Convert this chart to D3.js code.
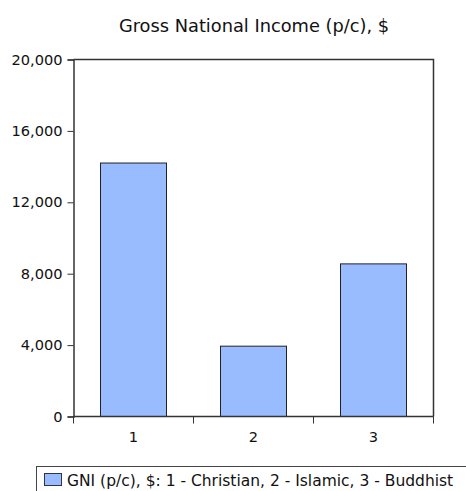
<!DOCTYPE html>
<html>
<head>
<meta charset="utf-8">
<script src="https://cdn.jsdelivr.net/npm/d3@7"></script>
<style>
  html, body { margin: 0; padding: 0; background: #fff; }
  svg { display: block; font-family: "DejaVu Sans", Verdana, sans-serif; }
</style>
</head>
<body>
<svg id="chart" width="466" height="491"></svg>
<script>
// Gross national income per capita by predominant religion
const categories = ["1", "2", "3"];
const gniValues = [14200, 3940, 8550];
const yTicks = [0, 4000, 8000, 12000, 16000, 20000];
const chartTitle = "Gross National Income (p/c), $";
const legendLabel = "GNI (p/c), $: 1 - Christian, 2 - Islamic, 3 - Buddhist";

const svg = d3.select("#chart");
const margin = { left: 73.5, right: 433.5, top: 59.5, bottom: 416.5 };

const x = d3.scaleBand()
  .domain(categories)
  .range([margin.left, margin.right])
  .paddingInner(0.45)
  .paddingOuter(0.225);

const y = d3.scaleLinear()
  .domain([0, 20000])
  .range([margin.bottom, margin.top]);

const axisColor = "#333";
const labelSize = 14.6;

// title
svg.append("text")
  .attr("x", 254)
  .attr("y", 25)
  .attr("text-anchor", "middle")
  .attr("dominant-baseline", "central")
  .attr("font-size", 17.8)
  .attr("fill", "#111")
  .text(chartTitle);

// frame: top and right edges of the plot area
svg.append("path")
  .attr("d", `M${margin.left},${margin.top}H${margin.right}V${margin.bottom}`)
  .attr("fill", "none")
  .attr("stroke", axisColor)
  .attr("stroke-width", 1.5);

// bars
svg.append("g")
  .selectAll("rect")
  .data(gniValues)
  .join("rect")
  .attr("x", (d, i) => x(categories[i]))
  .attr("y", d => y(d))
  .attr("width", x.bandwidth())
  .attr("height", d => y(0) - y(d))
  .attr("fill", "#99bbff")
  .attr("stroke", "#222")
  .attr("stroke-width", 1);

// y axis
const yAxis = svg.append("g")
  .attr("transform", `translate(${margin.left},0)`)
  .call(d3.axisLeft(y).tickValues(yTicks).tickSize(6).tickPadding(5)
    .tickFormat(d3.format(",")));
yAxis.select(".domain").attr("stroke", axisColor).attr("stroke-width", 1.5);
yAxis.selectAll(".tick line").attr("stroke", axisColor);
yAxis.selectAll(".tick text")
  .attr("font-size", labelSize)
  .attr("fill", "#111")
  .attr("font-family", "DejaVu Sans, Verdana, sans-serif");

// x axis: ticks sit on the band boundaries, labels at band centres
const xBoundaries = categories.map(c => x(c) - x.step() * x.paddingInner() / 2)
  .concat([margin.right]);
const xAxis = svg.append("g")
  .attr("transform", `translate(0,${margin.bottom})`);
xAxis.append("path")
  .attr("d", `M${margin.left},0H${margin.right}`)
  .attr("stroke", axisColor)
  .attr("stroke-width", 1.5);
xAxis.selectAll("line.tick")
  .data(xBoundaries)
  .join("line")
  .attr("class", "tick")
  .attr("x1", d => d).attr("x2", d => d)
  .attr("y1", 0).attr("y2", 7)
  .attr("stroke", axisColor);
xAxis.selectAll("text")
  .data(categories)
  .join("text")
  .attr("x", d => x(d) + x.bandwidth() / 2)
  .attr("y", 20)
  .attr("text-anchor", "middle")
  .attr("dominant-baseline", "central")
  .attr("font-size", labelSize)
  .attr("fill", "#111")
  .text(d => d);

// legend
const legend = svg.append("g");
legend.append("rect")
  .attr("x", 36.5)
  .attr("y", 466.5)
  .attr("width", 440)
  .attr("height", 40)
  .attr("fill", "#fff")
  .attr("stroke", "#444")
  .attr("stroke-width", 1);
legend.append("rect")
  .attr("x", 44.5)
  .attr("y", 473.5)
  .attr("width", 17)
  .attr("height", 12)
  .attr("fill", "#99bbff")
  .attr("stroke", "#334");
legend.append("text")
  .attr("x", 67)
  .attr("y", 480.5)
  .attr("dominant-baseline", "central")
  .attr("font-size", 15.5)
  .attr("fill", "#111")
  .text(legendLabel);
</script>
</body>
</html>
